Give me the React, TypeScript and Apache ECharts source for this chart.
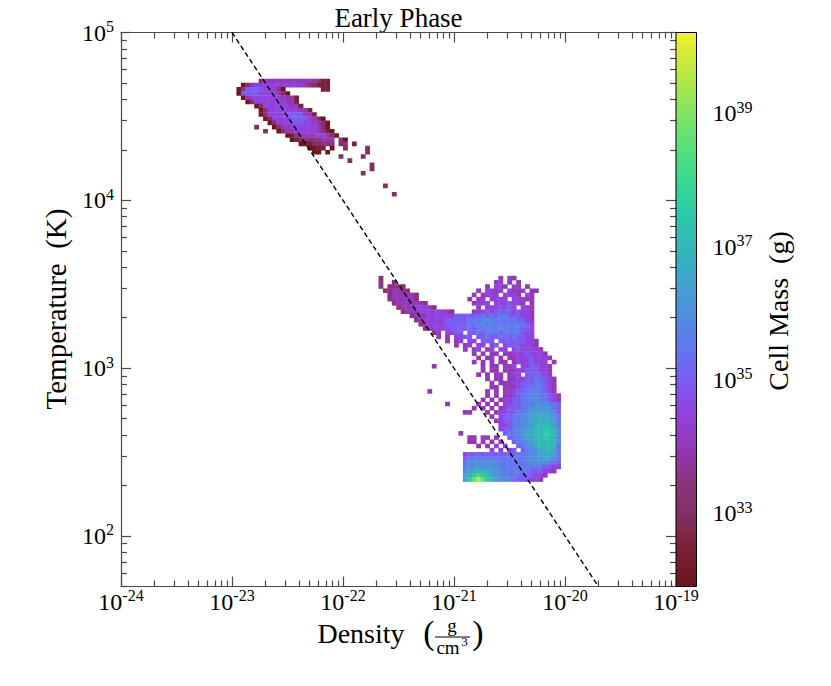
import React, { useEffect, useRef } from "react";
import * as echarts from "echarts";

const FONT = '"Liberation Serif", "Times New Roman", serif';

// Axis extents (log10 values)
const X_MIN = -24;
const X_MAX = -19;
const Y_MIN = Math.log10(50);
const Y_MAX = 5;
const C_MIN = 31.9;
const C_MAX = 40.21;

// Tick values (log10)
const X_MAJOR = [-24, -23, -22, -21, -20, -19];
const Y_MAJOR = [2, 3, 4, 5];
const C_MAJOR = [33, 35, 37, 39];
const MINOR_MULT = [2, 3, 4, 5, 6, 7, 8, 9];

// Cell mass levels: code character -> log10(cell mass / g)
const LEVEL_CODES = "0123456789abcdefg";
const LEVEL_MASS = [32, 32.5, 33, 33.5, 34, 34.5, 35, 35.5, 36, 36.5, 37, 37.5, 38, 38.5, 39, 39.5, 40];

// Histogram bins (log10 density, log10 temperature)
const CELL_DX = 0.04;
const CELL_DT = 0.025;

// Hot phase (upper blob); origin = [log rho of col 0 left edge, log T of row 0 top edge]
const UPPER_ORIGIN = [-23.0, 4.75];
const UPPER_ROWS = [
  "",
  "6:24444444444443 20:11",
  "2:02455555555555432111",
  "1:03666655530 20:11",
  "1:066665555420",
  "2:0455555554441",
  "3:025555555441",
  "5:02555555441",
  "6:025555555441",
  "6:0255556666441",
  "7:02555566665420",
  "8:02555666555420",
  "5:2 9:0244555555420",
  "7:2 10:0244555554310",
  "12:013444455420",
  "13:0123333444.30",
  "15:00122333.23.1",
  "17:0011.0 25:2 30:2",
  "18:00.0 30:2",
  "24:2 29:2",
  "26:2",
  "31:2",
  "31:2",
  "29:2",
  "",
  "",
  "34:2",
  "",
  "36:2",
];

// Cool phase (lower structure)
const LOWER_ORIGIN = [-21.68, 3.55];
const LOWER_ROWS = [
  "0:3 27:4.54",
  "0:3 3:2 26:45.4.4",
  "0:3 2:3332 24:4.554.54.4",
  "1:234433 22:4.5545.5445.44",
  "2:3444443 21:4.4555.5554.54",
  "2:3444443 20:4.45.5555.55544",
  "3:34444443 21:4555.5556554.4",
  "4:344455543 22:4.5556565.554",
  "5:344455555543 21:45565666656554",
  "7:3444555555666666767677666554",
  "8:345555566666777787777776654",
  "9:34555566666777878777777765",
  "10:3455556666767777787777665",
  "12:34.5566.667677767777655",
  "13:4.4.5566.6676677676655",
  "15:4.45.55.666.666666554",
  "17:4.45.55.56.56665554",
  "19:4.45.45.55.5655554",
  "21:4.4.44.4455565554",
  "22:4.44.4.4455565554",
  "21:4.4.4.44.45556555.4",
  "12:4 23:4.44.445.5566554",
  "23:4.44.44455666554",
  "22:4.4.44.455.666654",
  "24:4.44.44556676654",
  "25:4.4445566677654",
  "25:44.444566777654",
  "11:4 24:4.4.445667777654",
  "24:4.4.4456777877654",
  "23:4 25:4.45566778877654",
  "15:4 22:4 24:4.4 28:5566777888776",
  "21:4 23:4.4 27:45666778888876",
  "19:44 24:4 26:455667788999886",
  "25:4.56677889999987",
  "26:4566778899aa997",
  "27:55677889aaaa97",
  "27:56678899aabaa8",
  "18:4 28:6778899aabba8",
  "20:44.44.4 29:677899aabaa8",
  "20:44.4.4.4 30:67889aaaaa8",
  "22:4.4.5.5 31:67889aaaa7",
  "25:5.5.56.67889aa97",
  "19:5666666666667778899997",
  "19:6777777777777788889987",
  "19:7888888877777778888776",
  "19:7888888877777777776655",
  "19:899aa9988777777666554",
  "19:99bcba9887777666554",
  "19:9bdfdba98877666554",
];

// Reference isobar: log10(rho) + log10(T) = const
const ISOBAR_LOG_RHO_T = -18;

// Colour map (log10 cell mass -> colour)
const CMAP_VALUES = [31.9, 32.5, 33.0, 33.5, 34.0, 34.5, 35.0, 35.5, 36.0, 36.5, 37.0, 37.5, 38.0, 38.5, 39.0, 39.5, 40.0, 40.21];
const CMAP_COLORS = [
  "#6e1418", "#7a2238", "#823065", "#8b3380", "#9438b8", "#9142de",
  "#7b5cf2", "#6278ee", "#4e90dc", "#40a4cc", "#33b8b8", "#2ccaa8",
  "#38d890", "#5ae07a", "#80e462", "#b0e845", "#e0ec36", "#f7ef30",
];

function hexToRgb(h: string) {
  const n = parseInt(h.slice(1), 16);
  return [(n >> 16) & 255, (n >> 8) & 255, n & 255];
}
function cmap(v: number) {
  if (v <= CMAP_VALUES[0]) return CMAP_COLORS[0];
  const last = CMAP_VALUES.length - 1;
  if (v >= CMAP_VALUES[last]) return CMAP_COLORS[last];
  let i = 0;
  while (v > CMAP_VALUES[i + 1]) i++;
  const t = (v - CMAP_VALUES[i]) / (CMAP_VALUES[i + 1] - CMAP_VALUES[i]);
  const a = hexToRgb(CMAP_COLORS[i]);
  const b = hexToRgb(CMAP_COLORS[i + 1]);
  const c = a.map((x, k) => Math.round(x + (b[k] - x) * t));
  return `rgb(${c[0]},${c[1]},${c[2]})`;
}

function decode(origin: number[], rows: string[]) {
  const out: number[][] = [];
  rows.forEach((row, r) => {
    if (!row) return;
    row.split(" ").forEach((seg) => {
      const [s, codes] = seg.split(":");
      const c0 = parseInt(s, 10);
      for (let i = 0; i < codes.length; i++) {
        const ch = codes[i];
        if (ch === ".") continue;
        const lvl = LEVEL_CODES.indexOf(ch);
        out.push([
          origin[0] + (c0 + i + 0.5) * CELL_DX,
          origin[1] - (r + 0.5) * CELL_DT,
          LEVEL_MASS[lvl],
        ]);
      }
    });
  });
  return out;
}

function minorTicks(majors: number[], lo: number, hi: number) {
  const out: number[] = [];
  for (let d = Math.floor(lo) - 1; d <= Math.ceil(hi); d++) {
    MINOR_MULT.forEach((k) => {
      const v = d + Math.log10(k);
      if (v >= lo - 1e-9 && v <= hi + 1e-9 && majors.indexOf(v) < 0) out.push(v);
    });
  }
  return out;
}

const AX_COLOR = "#4a4a4a";
const axLine = { color: AX_COLOR, width: 1.2 };
const rich = {
  b: { fontSize: 24, fontFamily: FONT, color: "#000", lineHeight: 26 },
  s: { fontSize: 16, fontFamily: FONT, color: "#000", lineHeight: 16, padding: [0, 0, 12, 0] },
};
const fmt = (v: number) => `{b|10}{s|${Math.round(v)}}`;

function buildOption() {
  const cells = [...decode(UPPER_ORIGIN, UPPER_ROWS), ...decode(LOWER_ORIGIN, LOWER_ROWS)];
  const xMinor = minorTicks(X_MAJOR, X_MIN, X_MAX);
  const yMinor = minorTicks(Y_MAJOR, Y_MIN, Y_MAX);
  const isobar = [
    [ISOBAR_LOG_RHO_T - Y_MAX, Y_MAX],
    [ISOBAR_LOG_RHO_T - Y_MIN, Y_MIN],
  ];
  const stops = CMAP_VALUES.map((v, i) => ({ offset: (v - C_MIN) / (C_MAX - C_MIN), color: CMAP_COLORS[i] }));

  const xMajorAxis = (position: string, labels: boolean) => ({
    gridIndex: 0, type: "value", min: X_MIN, max: X_MAX, interval: 1, position,
    axisLine: { show: true, onZero: false, lineStyle: axLine },
    axisTick: { show: true, inside: true, length: 10, lineStyle: axLine },
    axisLabel: { show: labels, margin: 2, formatter: fmt, rich },
    splitLine: { show: false },
  });
  const xMinorAxis = (position: string) => ({
    gridIndex: 0, type: "value", min: X_MIN, max: X_MAX, position,
    axisLine: { show: false, onZero: false },
    axisTick: { show: true, inside: true, length: 6, lineStyle: axLine, customValues: xMinor },
    axisLabel: { show: false },
    splitLine: { show: false },
  });
  const yMajorAxis = (position: string, labels: boolean) => ({
    gridIndex: 0, type: "value", min: Y_MIN, max: Y_MAX, position,
    axisLine: { show: true, onZero: false, lineStyle: axLine },
    axisTick: { show: true, inside: true, length: 10, lineStyle: axLine, customValues: Y_MAJOR },
    axisLabel: { show: labels, margin: 7, formatter: fmt, rich, customValues: Y_MAJOR },
    splitLine: { show: false },
  });
  const yMinorAxis = (position: string) => ({
    gridIndex: 0, type: "value", min: Y_MIN, max: Y_MAX, position,
    axisLine: { show: false, onZero: false },
    axisTick: { show: true, inside: true, length: 6, lineStyle: axLine, customValues: yMinor },
    axisLabel: { show: false },
    splitLine: { show: false },
  });

  const txt = (text: string, x: number, y: number, size: number, rotation = 0) => ({
    type: "text", x, y, rotation, silent: true,
    style: {
      text, fontSize: size, fontFamily: FONT, fill: "#000",
      align: "center", verticalAlign: "middle", textAlign: "center", textVerticalAlign: "middle",
    },
  });

  return {
    animation: false,
    backgroundColor: "#fff",
    grid: [
      { left: 121, top: 32.5, width: 555, height: 554 },
      { left: 676, top: 32.5, width: 20.5, height: 554 },
    ],
    xAxis: [
      xMajorAxis("bottom", true),
      xMinorAxis("bottom"),
      xMajorAxis("top", false),
      xMinorAxis("top"),
      { gridIndex: 1, type: "value", min: 0, max: 1, show: false },
    ],
    yAxis: [
      yMajorAxis("left", true),
      yMinorAxis("left"),
      yMajorAxis("right", false),
      yMinorAxis("right"),
      {
        gridIndex: 1, type: "value", min: C_MIN, max: C_MAX, position: "right",
        axisLine: { show: false },
        axisTick: { show: true, inside: false, length: 10, lineStyle: { color: "#000", width: 1.2 }, customValues: C_MAJOR },
        axisLabel: { show: true, margin: 16, formatter: fmt, rich, customValues: C_MAJOR },
        splitLine: { show: false },
      },
    ],
    series: [
      {
        type: "custom", xAxisIndex: 0, yAxisIndex: 0, data: cells, clip: true, silent: true, z: 2,
        renderItem: (_p: any, api: any) => {
          const x = api.value(0), y = api.value(1), m = api.value(2);
          const p0 = api.coord([x - CELL_DX / 2, y + CELL_DT / 2]);
          const p1 = api.coord([x + CELL_DX / 2, y - CELL_DT / 2]);
          return {
            type: "rect",
            shape: { x: p0[0], y: p0[1], width: p1[0] - p0[0] + 0.4, height: p1[1] - p0[1] + 0.4 },
            style: { fill: cmap(m) },
          };
        },
      },
      {
        type: "line", xAxisIndex: 0, yAxisIndex: 0, data: isobar, symbol: "none", showSymbol: false,
        silent: true, z: 5, clip: true,
        lineStyle: { color: "#000", width: 1.4, type: [5, 3] },
      },
      {
        type: "custom", xAxisIndex: 4, yAxisIndex: 4, data: [[0, C_MIN]], silent: true, z: 3,
        renderItem: (_p: any, api: any) => {
          const p0 = api.coord([0, C_MAX]);
          const p1 = api.coord([1, C_MIN]);
          return {
            type: "rect",
            shape: { x: p0[0], y: p0[1], width: p1[0] - p0[0], height: p1[1] - p0[1] },
            style: {
              fill: new echarts.graphic.LinearGradient(0, 1, 0, 0, stops),
              stroke: "#000", lineWidth: 1,
            },
          };
        },
      },
    ],
    graphic: [
      txt("Early Phase", 398.5, 17.5, 27),
      txt("Temperature  (K)", 55.5, 309, 29, Math.PI / 2),
      txt("Cell Mass  (g)", 778, 311, 28, Math.PI / 2),
      txt("Density", 361, 633, 28),
      txt("(", 429, 632, 34),
      txt(")", 478, 632, 34),
      txt("g", 452, 625, 19),
      { type: "line", silent: true, shape: { x1: 435, y1: 637, x2: 470, y2: 637 }, style: { stroke: "#000", lineWidth: 1 } },
      txt("cm", 448, 647, 19),
      txt("3", 464.5, 641, 13),
    ],
  };
}

export default function App() {
  const ref = useRef<HTMLDivElement>(null);
  useEffect(() => {
    const chart = echarts.init(ref.current as HTMLDivElement, null, { renderer: "svg" });
    chart.setOption(buildOption() as any);
    return () => chart.dispose();
  }, []);
  return (
    <div
      ref={ref}
      style={{ position: "fixed", left: 0, top: 0, width: 831, height: 686, background: "#fff" }}
    />
  );
}
